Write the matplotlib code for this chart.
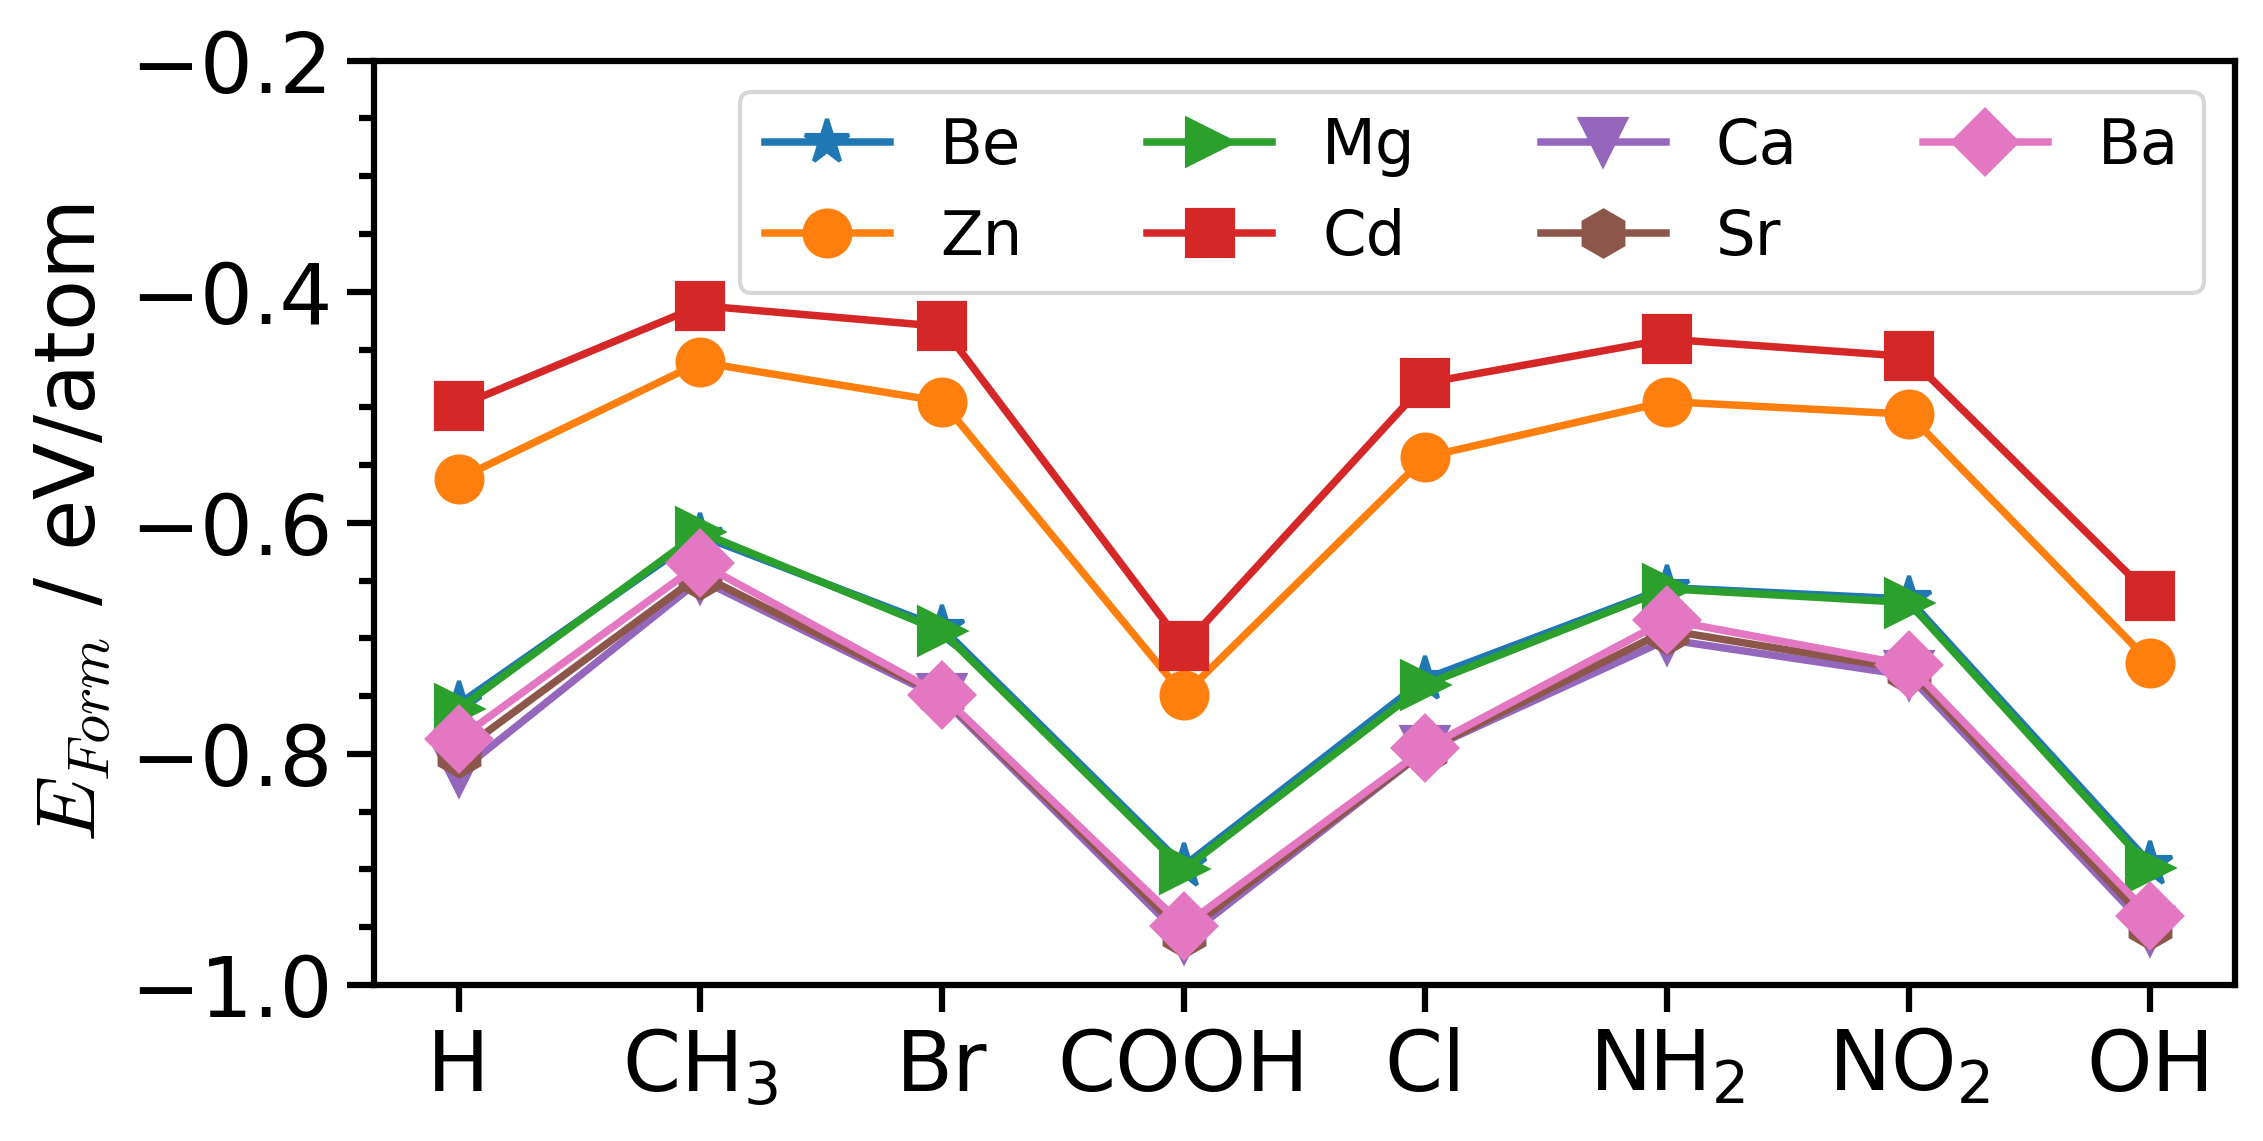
import matplotlib
matplotlib.use('Agg')
import matplotlib.pyplot as plt
from matplotlib.ticker import MultipleLocator

groups = ['H', r'CH$_3$', 'Br', 'COOH', 'Cl', r'NH$_2$', r'NO$_2$', 'OH']

# formation energies (eV/atom) per metal
be = [-0.757, -0.611, -0.691, -0.897, -0.735, -0.656, -0.666, -0.895]
zn = [-0.562, -0.461, -0.495, -0.749, -0.543, -0.495, -0.506, -0.721]
mg = [-0.761, -0.608, -0.694, -0.900, -0.740, -0.657, -0.669, -0.899]
cd = [-0.499, -0.412, -0.430, -0.707, -0.479, -0.441, -0.456, -0.663]
ca = [-0.816, -0.649, -0.752, -0.960, -0.797, -0.701, -0.732, -0.953]
sr = [-0.799, -0.645, -0.750, -0.955, -0.797, -0.693, -0.727, -0.948]
ba = [-0.787, -0.635, -0.749, -0.949, -0.795, -0.684, -0.723, -0.940]

series = [('Be', be, '*'), ('Zn', zn, 'o'), ('Mg', mg, '>'), ('Cd', cd, 's'),
          ('Ca', ca, 'v'), ('Sr', sr, 'h'), ('Ba', ba, 'D')]

plt.rcParams['axes.linewidth'] = 1.5

fig = plt.figure(figsize=(2263 / 300, 1141 / 300), dpi=300)
ax = fig.add_axes([0.1653, 0.1367, 0.8223, 0.8101])

x = list(range(len(groups)))
for name, vals, mk in series:
    ax.plot(x, vals, marker=mk, markersize=11, linewidth=1.8, label=name)

ax.set_xticks(x)
ax.set_xticklabels(groups)
ax.set_ylim(-1.0, -0.2)
ax.yaxis.set_major_locator(MultipleLocator(0.2))
ax.yaxis.set_minor_locator(MultipleLocator(0.05))
ax.tick_params(axis='both', which='major', labelsize=20, length=6.5, width=1.5)
ax.tick_params(axis='y', which='minor', length=3.5, width=1.5)

ax.set_ylabel(r'$E_{Form}$ / eV/atom', fontsize=20, math_fontfamily='cm')
ax.legend(ncol=4, loc='upper right', fontsize=15)

plt.savefig('out.png', dpi=300)
